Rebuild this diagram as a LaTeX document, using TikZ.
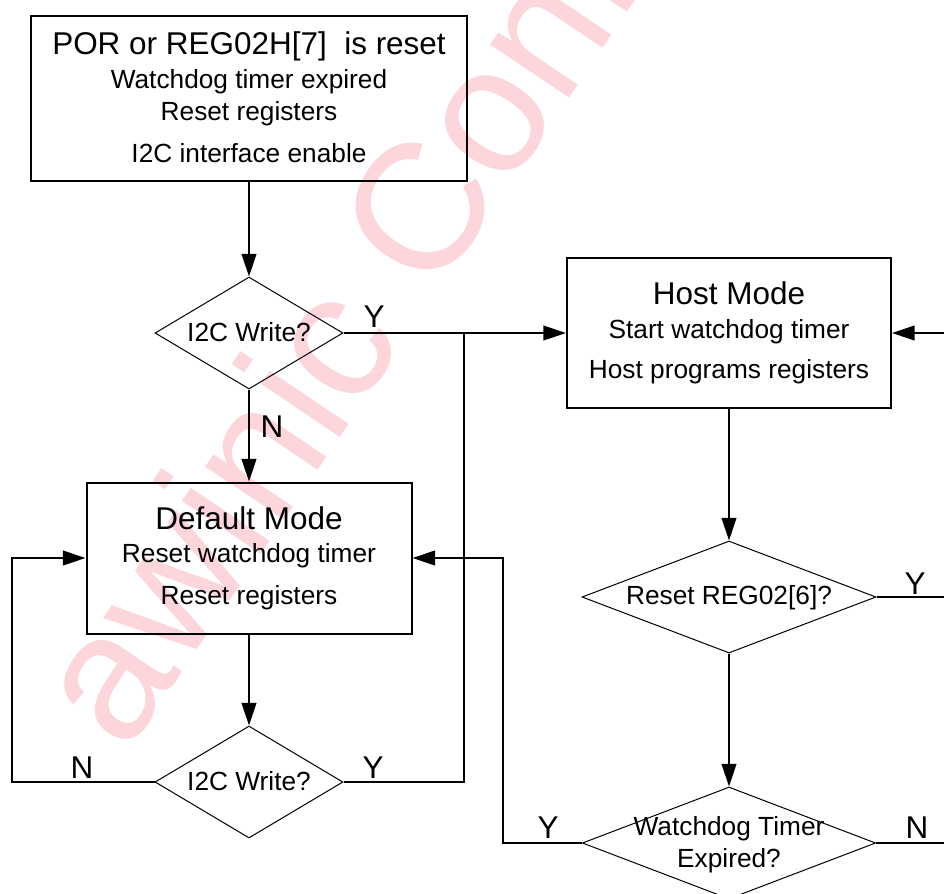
\documentclass[tikz,border=0pt]{standalone}
\usepackage{fontspec}
\setmainfont{Liberation Sans}
\usetikzlibrary{shapes.geometric,arrows.meta}

\begin{document}
\begin{tikzpicture}[x=0.75pt,y=0.75pt,yscale=-1,xscale=1,
  box/.style={draw,line width=1.5pt,inner sep=0pt},
  decision/.style={draw,diamond,line width=0.75pt,inner sep=0pt},
  bigtext/.style={anchor=base,inner sep=0pt,font=\fontsize{23.6pt}{28pt}\selectfont},
  smalltext/.style={anchor=base,inner sep=0pt,font=\fontsize{19.7pt}{23.6pt}\selectfont},
  flow/.style={line width=1.5pt,-{Triangle[length=17pt,width=11pt]}},
  wire/.style={line width=1.5pt}]
  \useasboundingbox (0,0) rectangle (944,893);
  \clip (0,0) rectangle (944,893);

  % Watermark
  \node[anchor=base west,inner sep=0pt,rotate=56,text={rgb,255:red,253;green,214;blue,220},
    font=\fontsize{135pt}{160pt}\selectfont] (mark) at (126,755) {awinic Confidential};

  %Shape: Rectangle [por]
  \node[box,minimum width=327pt,minimum height=123.75pt] (por) at (249,98.5) {};
  %Shape: Rectangle [host]
  \node[box,minimum width=243pt,minimum height=112.5pt] (host) at (729,333) {};
  %Shape: Rectangle [dflt]
  \node[box,minimum width=243.75pt,minimum height=113.25pt] (dflt) at (249,558) {};
  %Shape: Diamond [wra]
  \node[decision,minimum width=141pt,minimum height=84pt] (wra) at (249,333) {};
  %Shape: Diamond [wrb]
  \node[decision,minimum width=141pt,minimum height=84pt] (wrb) at (249,782) {};
  %Shape: Diamond [rst]
  \node[decision,minimum width=220.5pt,minimum height=84pt] (rst) at (729,597) {};
  %Shape: Diamond [wdt]
  \node[decision,minimum width=220pt,minimum height=84pt] (wdt) at (729,843) {};

  % Free ends at the right edge
  \coordinate (host-in) at (944,333);
  \coordinate (rst-out) at (944,597);
  \coordinate (wdt-out) at (944,843);
  \coordinate (jn) at (464,333);
  \coordinate (lft) at (12,782);
  \coordinate (rgt) at (503,843);

  %Straight Lines
  \draw[flow] (por) -- (wra);
  \draw[flow] (wra) -- (dflt);
  \draw[flow] (dflt) -- (wrb);
  \draw[flow] (wra.east) -- (host.west);
  \draw[wire] (wrb.east) -| (jn);
  \draw[flow] (wrb.west) -- (lft) |- (dflt.west);
  \draw[flow] (wdt.west) -- (rgt) |- (dflt.east);
  \draw[flow] (host-in) -- (host.east);
  \draw[flow] (host) -- (rst);
  \draw[flow] (rst) -- (wdt);
  \draw[wire] (rst.east) -- (rst-out);
  \draw[wire] (wdt.east) -- (wdt-out);

  % Text Node
  \node[bigtext] (por-t1) at (249,54) {POR or REG02H[7]\ \ is reset};
  % Text Node
  \node[smalltext] (por-t2) at (249,88) {Watchdog timer expired};
  % Text Node
  \node[smalltext] (por-t3) at (249,120) {Reset registers};
  % Text Node
  \node[smalltext] (por-t4) at (249,162) {I2C interface enable};
  % Text Node
  \node[bigtext] (host-t1) at (729,304) {Host Mode};
  % Text Node
  \node[smalltext] (host-t2) at (729,338) {Start watchdog timer};
  % Text Node
  \node[smalltext] (host-t3) at (729,378) {Host programs registers};
  % Text Node
  \node[bigtext] (dflt-t1) at (249,529) {Default Mode};
  % Text Node
  \node[smalltext] (dflt-t2) at (249,562) {Reset watchdog timer};
  % Text Node
  \node[smalltext] (dflt-t3) at (249,604) {Reset registers};
  % Text Node
  \node[smalltext] (wra-t) at (249,341.5) {I2C Write?};
  % Text Node
  \node[smalltext] (wrb-t) at (249,790) {I2C Write?};
  % Text Node
  \node[smalltext] (rst-t) at (729,604) {Reset REG02[6]?};
  % Text Node
  \node[smalltext] (wdt-t1) at (729,835) {Watchdog Timer};
  % Text Node
  \node[smalltext] (wdt-t2) at (729,867) {Expired?};
  % Text Node
  \node[bigtext] (wra-y) at (374,327) {Y};
  % Text Node
  \node[bigtext] (wra-n) at (272,437) {N};
  % Text Node
  \node[bigtext] (wrb-n) at (82,778) {N};
  % Text Node
  \node[bigtext] (wrb-y) at (373,778) {Y};
  % Text Node
  \node[bigtext] (rst-y) at (915,594) {Y};
  % Text Node
  \node[bigtext] (wdt-y) at (548,838) {Y};
  % Text Node
  \node[bigtext] (wdt-n) at (917,838) {N};

\end{tikzpicture}
\end{document}
